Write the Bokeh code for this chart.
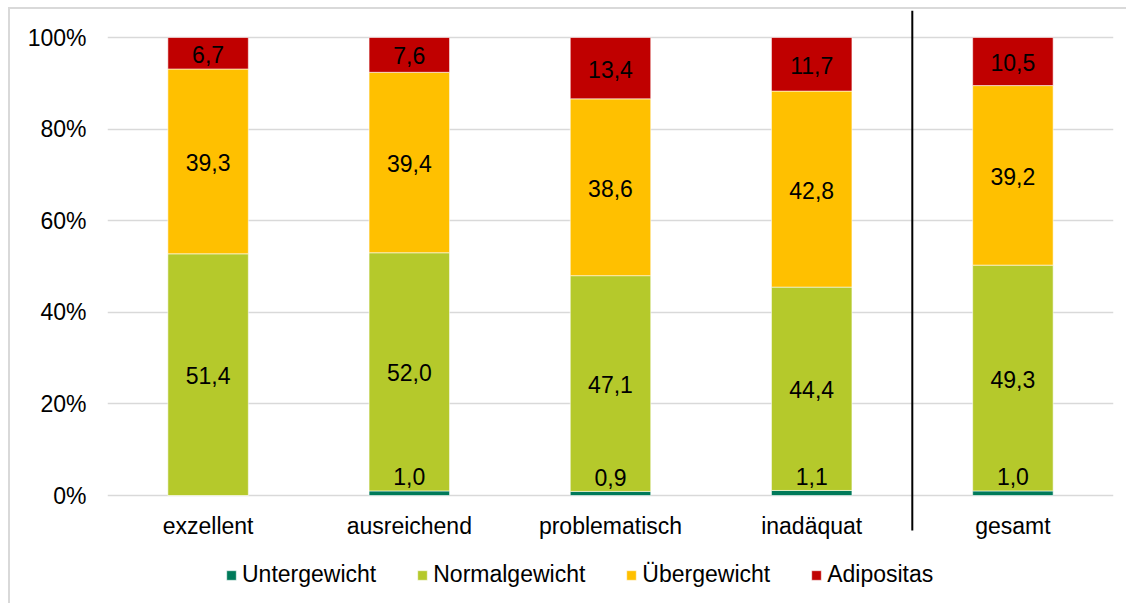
from bokeh.plotting import figure
from bokeh.models import ColumnDataSource, FixedTicker, Legend, LegendItem
from bokeh.core.properties import value
from bokeh.embed import file_html
from bokeh.resources import INLINE

categories = ["exzellent", "ausreichend", "problematisch", "inadäquat", "gesamt"]
untergewicht = [0.0, 1.0, 0.9, 1.1, 1.0]
normalgewicht = [51.4, 52.0, 47.1, 44.4, 49.3]
uebergewicht = [39.3, 39.4, 38.6, 42.8, 39.2]
adipositas = [6.7, 7.6, 13.4, 11.7, 10.5]
series_names = ["Untergewicht", "Normalgewicht", "Übergewicht", "Adipositas"]
series_colors = ["#007A5A", "#B5C92B", "#FFC000", "#C00000"]
y_ticks = [0, 20, 40, 60, 80, 100]
y_tick_labels = ["0%", "20%", "40%", "60%", "80%", "100%"]
separator_before = "gesamt"

FONT = "Liberation Sans"
FS = "23px"

series_values = [untergewicht, normalgewicht, uebergewicht, adipositas]
totals = [sum(t) for t in zip(*series_values)]
shares = {name: [100.0 * v / t for v, t in zip(vals, totals)]
          for name, vals in zip(series_names, series_values)}
src = ColumnDataSource(dict(cat=categories, **shares))

px_per_pct = 4.58
y_top = 100 + 27 / px_per_pct
y_bottom = -110 / px_per_pct
y_cat_label = -30 / px_per_pct
y_sep_bottom = -35 / px_per_pct

p = figure(x_range=categories, y_range=(y_bottom, y_top),
           width=1118, height=596, output_backend="svg", toolbar_location=None,
           min_border_left=97, min_border_right=15, min_border_top=1, min_border_bottom=0,
           background_fill_color="white", border_fill_color="white")
p.styles = {"margin-left": "8px", "margin-top": "7px",
            "border-top": "2px solid #d9d9d9", "border-left": "2px solid #d9d9d9"}
p.outline_line_color = None

renderers = p.vbar_stack(series_names, x="cat", width=0.4, color=series_colors,
                         source=src, line_color="white", line_width=0.8, line_alpha=0.7)

# data labels
lx, ly, lt = [], [], []
ux, uy, ut = [], [], []
for j, c in enumerate(categories):
    base = 0.0
    for i, name in enumerate(series_names):
        s = shares[name][j]
        v = series_values[i][j]
        if v > 0:
            txt = f"{v:.1f}".replace(".", ",")
            if i == 0:
                ux.append(c); uy.append(base + s); ut.append(txt)
            else:
                lx.append(c); ly.append(base + s / 2); lt.append(txt)
        base += s

p.text(x=lx, y=ly, text=lt, text_align="center", text_baseline="middle",
       text_font=value(FONT), text_font_size=FS, text_color="black", y_offset=1)
p.text(x=ux, y=uy, text=ut, text_align="center", text_baseline="alphabetic",
       text_font=value(FONT), text_font_size=FS, text_color="black", y_offset=-14)

# category labels
p.text(x=categories, y=[y_cat_label] * len(categories), text=categories,
       text_align="center", text_baseline="middle",
       text_font=value(FONT), text_font_size=FS, text_color="black")

# separator line
sep_x = categories.index(separator_before)
p.segment(x0=[sep_x], x1=[sep_x], y0=[y_top], y1=[y_sep_bottom],
          line_color="black", line_width=2)

# axes
p.yaxis.ticker = FixedTicker(ticks=y_ticks)
p.yaxis.major_label_overrides = {t: l for t, l in zip(y_ticks, y_tick_labels)}
p.yaxis.axis_line_color = None
p.yaxis.major_tick_line_color = None
p.yaxis.minor_tick_line_color = None
p.yaxis.major_label_standoff = 15
p.yaxis.major_label_text_font = FONT
p.yaxis.major_label_text_font_size = FS
p.yaxis.major_label_text_color = "black"

p.xaxis.visible = False

p.xgrid.visible = False
p.ygrid.ticker = FixedTicker(ticks=y_ticks)
p.ygrid.grid_line_color = "#d9d9d9"
p.ygrid.grid_line_width = 1.5

legend = Legend(items=[LegendItem(label=n, renderers=[r]) for n, r in zip(series_names, renderers)],
                orientation="horizontal", location=(118, 17),
                padding=0, margin=0, spacing=40, label_standoff=5,
                glyph_width=12, glyph_height=12,
                label_text_font=FONT, label_text_font_size=FS, label_text_color="black",
                border_line_color=None, background_fill_alpha=0)
p.add_layout(legend)

open("out.html", "w").write(file_html(p, INLINE))
